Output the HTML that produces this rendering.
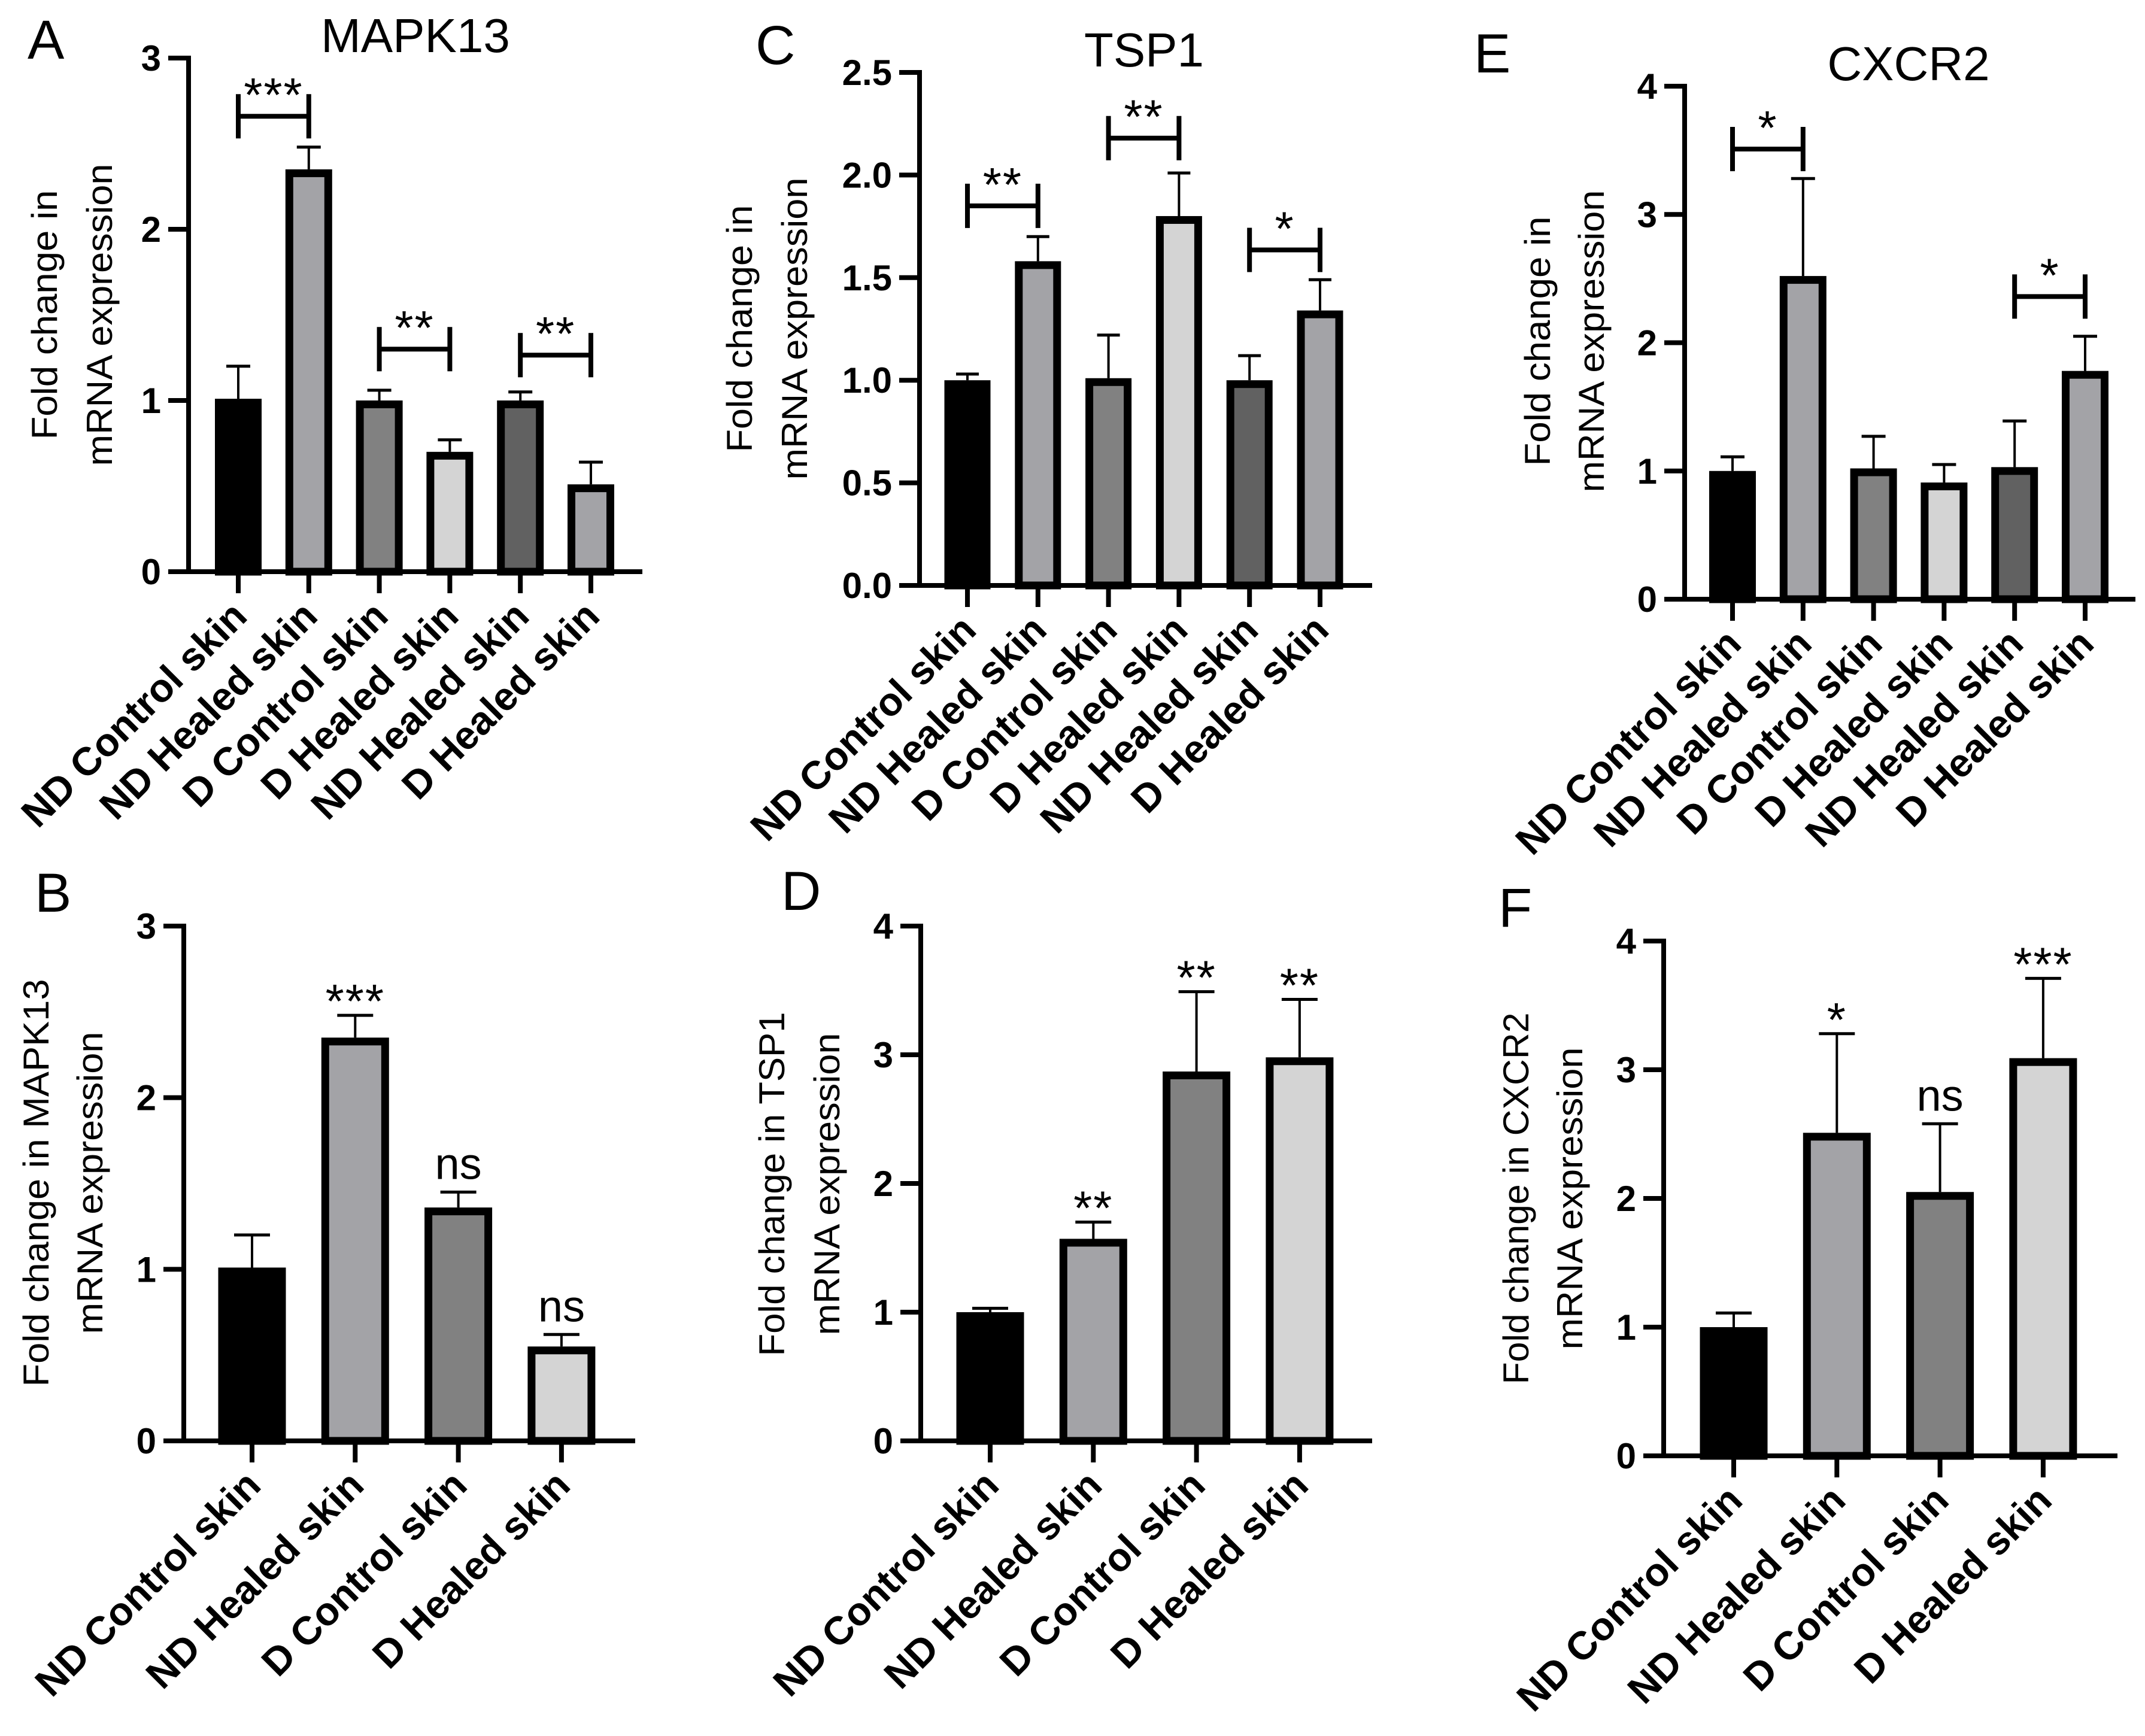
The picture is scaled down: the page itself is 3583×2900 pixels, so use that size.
<!DOCTYPE html>
<html>
<head>
<meta charset="utf-8">
<style>
html,body{margin:0;padding:0;background:#fff;}
svg{display:block;}
</style>
</head>
<body>
<svg id="fig" width="3583" height="2900" viewBox="0 0 3583 2900" xmlns="http://www.w3.org/2000/svg"></svg>
<script>
// ---------- data ----------
const cats6 = ["ND Control skin","ND Healed skin","D Control skin","D Healed skin","ND Healed skin","D Healed skin"];
const cats4 = ["ND Control skin","ND Healed skin","D Control skin","D Healed skin"];
const fills6 = ["#000000","#a3a3a7","#818181","#d4d4d4","#616161","#a3a3a7"];
const fills4 = ["#000000","#a3a3a7","#818181","#d4d4d4"];

const valsA = [1.01, 2.35, 1.00, 0.70, 1.00, 0.51];
const errA  = [1.20, 2.48, 1.06, 0.77, 1.05, 0.64];
const ticksA = ["0","1","2","3"];
const bracketPairsA = [[0,1],[2,3],[4,5]];
const bracketLevelsA = [2.66, 1.30, 1.265];
const bracketLabelsA = ["***","**","**"];

const valsB = [1.01, 2.35, 1.36, 0.55];
const errB  = [1.20, 2.48, 1.45, 0.62];
const ticksB = ["0","1","2","3"];
const sigB = ["", "***", "ns", "ns"];

const valsC = [1.00, 1.58, 1.01, 1.80, 1.00, 1.34];
const errC  = [1.03, 1.70, 1.22, 2.01, 1.12, 1.49];
const ticksC = ["0.0","0.5","1.0","1.5","2.0","2.5"];
const bracketPairsC = [[0,1],[2,3],[4,5]];
const bracketLevelsC = [1.85, 2.18, 1.635];
const bracketLabelsC = ["**","**","*"];

const valsD = [1.00, 1.57, 2.87, 2.98];
const errD  = [1.03, 1.70, 3.49, 3.43];
const ticksD = ["0","1","2","3","4"];
const sigD = ["", "**", "**", "**"];

const valsE = [1.00, 2.52, 1.02, 0.91, 1.03, 1.78];
const errE  = [1.11, 3.28, 1.27, 1.05, 1.39, 2.05];
const ticksE = ["0","1","2","3","4"];
const bracketPairsE = [[0,1],[4,5]];
const bracketLevelsE = [3.51, 2.36];
const bracketLabelsE = ["*","*"];

const valsF = [1.00, 2.51, 2.05, 3.09];
const errF  = [1.11, 3.28, 2.58, 3.71];
const ticksF = ["0","1","2","3","4"];
const sigF = ["", "*", "ns", "***"];

// ---------- drawing ----------
const NS = "http://www.w3.org/2000/svg";
const svg = document.getElementById('fig');
function mk(tag, attrs, parent){
  const e = document.createElementNS(NS, tag);
  for (const k in attrs) e.setAttribute(k, attrs[k]);
  (parent||svg).appendChild(e);
  return e;
}
const SANS = '"Liberation Sans", Arial, sans-serif';

function panel(cfg){
  const g = mk('g', {});
  
  
  const ymax = parseFloat(cfg.ticks[cfg.ticks.length-1]);
  const yS = v => cfg.y0 - v/ymax*(cfg.y0 - cfg.yTop);
  const xS = i => cfg.x0 + i*cfg.step;

  const L = mk('text', {x:cfg.letterX, y:cfg.letterY, 'font-family':SANS, 'font-size':92}, g);
  
  
  L.textContent = cfg.id;
  if (cfg.title){
    const t = mk('text', {x:cfg.titleX, y:cfg.titleY, 'font-family':SANS, 'font-size':80, 'text-anchor':'middle'}, g);
    
    
    t.textContent = cfg.title;
  }
  const cy = cfg.titleCY;
  cfg.ytitle.forEach((line, k) => {
    const t = mk('text', {x:0, y:0, 'font-family':SANS, 'font-size':60, 'text-anchor':'middle',
      transform:'translate(' + cfg.ytX[k] + ',' + cy + ') rotate(-90)',
      textLength: cfg.ytLen[k], lengthAdjust:'spacingAndGlyphs'}, g);
    
    
    t.textContent = line;
  });

  cfg.vals.forEach((v, i) => {
    const x = xS(i), w = cfg.barW - 13;
    const top = yS(v);
    const el = mk('line', {x1:x, x2:x, y1:top, y2:yS(cfg.err[i]), stroke:'#000', 'stroke-width':4}, g);
    
    
    const cap = mk('line', {x1:x - cfg.capW/2, x2:x + cfg.capW/2, y1:yS(cfg.err[i]), y2:yS(cfg.err[i]), stroke:'#000', 'stroke-width':5}, g);
    
    
    const r = mk('rect', {x:x - w/2, y:top + 6.5, width:w, height:Math.max(0, cfg.y0 - top - 6.5), fill:cfg.fills[i], stroke:'#000', 'stroke-width':13}, g);
    
    
    if (cfg.sig && cfg.sig[i]){
      const isNs = cfg.sig[i] === 'ns';
      const s = mk('text', {x:x, y:yS(cfg.err[i]) - (isNs ? 22 : -4), 'font-family':SANS,
        'font-size': isNs ? 74 : 80, 'text-anchor':'middle', 'letter-spacing': isNs ? 0 : 2}, g);
      
      
      s.textContent = cfg.sig[i];
    }
  });

  if (cfg.bPairs){
    cfg.bPairs.forEach((p, k) => {
      const xa = xS(p[0]), xb = xS(p[1]), y = yS(cfg.bLevels[k]);
      const b = mk('path', {d:'M'+xa+' '+(y-37)+'V'+(y+37)+'M'+xa+' '+y+'H'+xb+'M'+xb+' '+(y-37)+'V'+(y+37),
        stroke:'#000', 'stroke-width':8, fill:'none'}, g);
      
      
      const s = mk('text', {x:(xa+xb)/2, y:y - 8, 'font-family':SANS, 'font-size':80, 'text-anchor':'middle', 'letter-spacing':2}, g);
      
      
      s.textContent = cfg.bLabels[k];
    });
  }

  const ax = mk('path', {d:'M'+cfg.axisX+' '+(cfg.yTop)+'V'+cfg.y0+'H'+cfg.xEnd, stroke:'#000', 'stroke-width':8, fill:'none', 'stroke-linecap':'square'}, g);
  
  
  cfg.ticks.forEach(tl => {
    const v = parseFloat(tl), y = yS(v);
    const tk = mk('line', {x1:cfg.axisX - 34, x2:cfg.axisX, y1:y, y2:y, stroke:'#000', 'stroke-width':8}, g);
    
    
    const t = mk('text', {x:cfg.axisX - 46, y:y + 21, 'font-family':SANS, 'font-size':60, 'font-weight':'bold', 'text-anchor':'end'}, g);
    
    
    t.textContent = tl;
  });
  cfg.cats.forEach((c, i) => {
    const x = xS(i);
    const tk = mk('line', {x1:x, x2:x, y1:cfg.y0, y2:cfg.y0 + 36, stroke:'#000', 'stroke-width':8}, g);
    
    
    const t = mk('text', {x:0, y:0, 'font-family':SANS, 'font-size':66, 'font-weight':'bold', 'text-anchor':'end',
      transform:'translate(' + (x + 18) + ',' + (cfg.y0 + 78) + ') rotate(-45)'}, g);
    
    
    t.textContent = c;
  });
}

panel({id:'A', title:'MAPK13', titleX:694, titleY:87, letterX:46, letterY:98,
  cats:cats6, fills:fills6, vals:valsA, err:errA, ticks:ticksA,
  axisX:315, yTop:97, y0:955, xEnd:1069, x0:398, step:117.8, barW:78, capW:40,
  bPairs:bracketPairsA, bLevels:bracketLevelsA, bLabels:bracketLabelsA,
  ytitle:['Fold change in','mRNA expression'], ytX:[95,187], ytLen:[417,505], titleCY:526});

panel({id:'B', letterX:58, letterY:1523,
  cats:cats4, fills:fills4, vals:valsB, err:errB, ticks:ticksB, sig:sigB,
  axisX:307, yTop:1547, y0:2407, xEnd:1057, x0:421, step:172.3, barW:113, capW:60,
  ytitle:['Fold change in MAPK13','mRNA expression'], ytX:[81,171], ytLen:[681,505], titleCY:1976});

panel({id:'C', title:'TSP1', titleX:1911, titleY:111, letterX:1262, letterY:107,
  cats:cats6, fills:fills6, vals:valsC, err:errC, ticks:ticksC,
  axisX:1536, yTop:121, y0:978, xEnd:2288, x0:1616, step:117.8, barW:77, capW:38,
  bPairs:bracketPairsC, bLevels:bracketLevelsC, bLabels:bracketLabelsC,
  ytitle:['Fold change in','mRNA expression'], ytX:[1256,1348], ytLen:[413,505], titleCY:549});

panel({id:'D', letterX:1305, letterY:1520,
  cats:cats4, fills:fills4, vals:valsD, err:errD, ticks:ticksD, sig:sigD,
  axisX:1538, yTop:1547, y0:2407, xEnd:2288, x0:1654, step:172.3, barW:113, capW:60,
  ytitle:['Fold change in TSP1','mRNA expression'], ytX:[1310,1402], ytLen:[575,505], titleCY:1978});

panel({id:'E', title:'CXCR2', titleX:3188, titleY:134, letterX:2462, letterY:121,
  cats:cats6, fills:fills6, vals:valsE, err:errE, ticks:ticksE,
  axisX:2814, yTop:144, y0:1001, xEnd:3563, x0:2894, step:117.8, barW:78, capW:40,
  bPairs:bracketPairsE, bLevels:bracketLevelsE, bLabels:bracketLabelsE,
  ytitle:['Fold change in','mRNA expression'], ytX:[2589,2679], ytLen:[417,505], titleCY:570});

panel({id:'F', letterX:2503, letterY:1548,
  cats:cats4, fills:fills4, vals:valsF, err:errF, ticks:ticksF, sig:sigF,
  axisX:2779, yTop:1572, y0:2432, xEnd:3533, x0:2896, step:172.3, barW:113, capW:60,
  ytitle:['Fold change in CXCR2','mRNA expression'], ytX:[2553,2643], ytLen:[621,505], titleCY:2002});
</script>
</body>
</html>
